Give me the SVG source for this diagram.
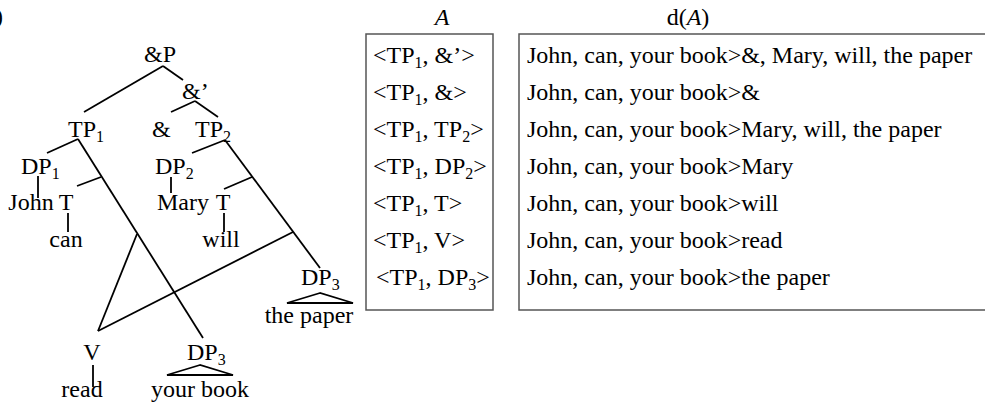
<svg xmlns="http://www.w3.org/2000/svg" width="985" height="403" viewBox="0 0 985 403">
<style>
text{font-family:"Liberation Serif","Times New Roman",serif;font-size:24px;fill:#000}
.m{text-anchor:middle}
.s{font-size:16px}
.it{font-style:italic}
.e line,.e polyline{stroke:#000;stroke-width:1.8;fill:none}
.tri{stroke:#000;stroke-width:1.8;fill:none}
.box{fill:none;stroke:#555;stroke-width:1.5}
</style>
<rect width="985" height="403" fill="#fff"/>
<text x="-5" y="24">)</text>
<g id="connectors" class="e">
<line x1="163" y1="66" x2="84" y2="112"/>
<line x1="163" y1="66" x2="183" y2="80"/>
<line x1="195" y1="101" x2="171" y2="112"/>
<line x1="195" y1="101" x2="218" y2="117"/>
<line x1="78" y1="139" x2="47" y2="153"/>
<line x1="78" y1="139" x2="203" y2="338"/>
<line x1="101" y1="177" x2="77" y2="186"/>
<line x1="38" y1="176" x2="38" y2="198"/>
<line x1="68" y1="213" x2="68" y2="232"/>
<line x1="137" y1="234" x2="98" y2="331"/>
<line x1="225" y1="140" x2="192" y2="153"/>
<line x1="225" y1="140" x2="320" y2="268"/>
<line x1="252" y1="177" x2="224" y2="189"/>
<line x1="293" y1="232" x2="98" y2="331"/>
<line x1="171" y1="177" x2="171" y2="193"/>
<line x1="224" y1="213" x2="224" y2="232"/>
<line x1="93" y1="365" x2="93" y2="387"/>
</g>
<g id="n-andP"><text class="m" x="160" y="62">&amp;P</text></g>
<g id="n-andbar"><text x="182" y="99">&amp;’</text></g>
<g id="n-TP1"><text x="68" y="137">TP<tspan class="s" dy="5">1</tspan></text></g>
<g id="n-and"><text x="152" y="137">&amp;</text></g>
<g id="n-TP2"><text x="195" y="137">TP<tspan class="s" dy="5">2</tspan></text></g>
<g id="n-DP1"><text x="21" y="174">DP<tspan class="s" dy="5">1</tspan></text></g>
<g id="n-John"><text class="m" x="31" y="210">John</text></g>
<g id="n-T1"><text class="m" x="66" y="210">T</text></g>
<g id="n-can"><text class="m" x="66" y="247">can</text></g>
<g id="n-DP2"><text x="155" y="174">DP<tspan class="s" dy="5">2</tspan></text></g>
<g id="n-Mary"><text class="m" x="183" y="210">Mary</text></g>
<g id="n-T2"><text class="m" x="223" y="210">T</text></g>
<g id="n-will"><text class="m" x="221" y="247">will</text></g>
<g id="n-DP3a"><text x="301" y="285">DP<tspan class="s" dy="5">3</tspan></text><polygon class="tri" points="320,293 287,303 353,303"/><text class="m" x="309" y="323">the paper</text></g>
<g id="n-V"><text class="m" x="92" y="360">V</text></g>
<g id="n-read"><text class="m" x="82" y="397">read</text></g>
<g id="n-DP3b"><text x="187" y="360">DP<tspan class="s" dy="5">3</tspan></text><polygon class="tri" points="200,365 167,375 233,375"/><text class="m" x="200" y="397">your book</text></g>
<g id="table-A">
<text class="m it" x="442" y="25">A</text>
<rect class="box" x="366" y="34" width="127" height="276"/>
<text x="373" y="63">&lt;TP<tspan class="s" dy="5">1</tspan><tspan dy="-5">, &amp;’&gt;</tspan></text>
<text x="373" y="100">&lt;TP<tspan class="s" dy="5">1</tspan><tspan dy="-5">, &amp;&gt;</tspan></text>
<text x="373" y="137">&lt;TP<tspan class="s" dy="5">1</tspan><tspan dy="-5">, TP</tspan><tspan class="s" dy="5">2</tspan><tspan dy="-5">&gt;</tspan></text>
<text x="373" y="174">&lt;TP<tspan class="s" dy="5">1</tspan><tspan dy="-5">, DP</tspan><tspan class="s" dy="5">2</tspan><tspan dy="-5">&gt;</tspan></text>
<text x="373" y="211">&lt;TP<tspan class="s" dy="5">1</tspan><tspan dy="-5">, T&gt;</tspan></text>
<text x="373" y="248">&lt;TP<tspan class="s" dy="5">1</tspan><tspan dy="-5">, V&gt;</tspan></text>
<text x="376" y="285">&lt;TP<tspan class="s" dy="5">1</tspan><tspan dy="-5">, DP</tspan><tspan class="s" dy="5">3</tspan><tspan dy="-5">&gt;</tspan></text>
</g>
<g id="table-dA">
<text class="m" x="688" y="25">d(<tspan class="it">A</tspan>)</text>
<rect class="box" x="519" y="34" width="480" height="276"/>
<text x="527" y="63">John, can, your book&gt;&amp;, Mary, will, the paper</text>
<text x="527" y="100">John, can, your book&gt;&amp;</text>
<text x="527" y="137">John, can, your book&gt;Mary, will, the paper</text>
<text x="527" y="174">John, can, your book&gt;Mary</text>
<text x="527" y="211">John, can, your book&gt;will</text>
<text x="527" y="248">John, can, your book&gt;read</text>
<text x="527" y="285">John, can, your book&gt;the paper</text>
</g>
</svg>
